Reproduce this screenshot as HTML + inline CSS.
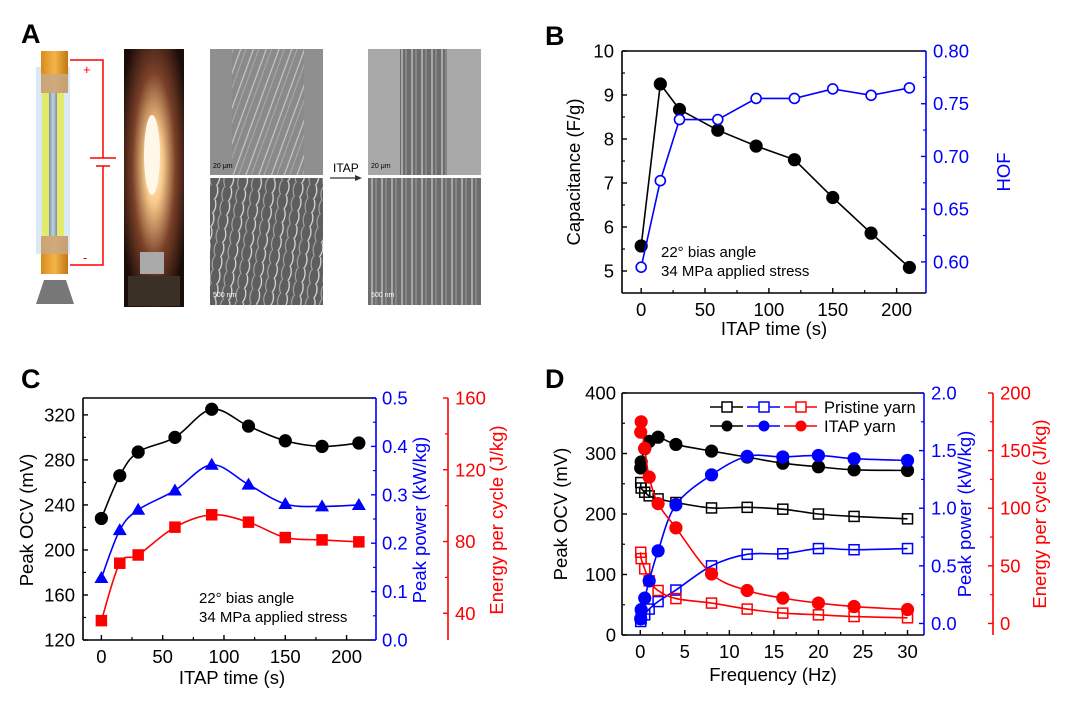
<!DOCTYPE html>
<html><head><meta charset="utf-8">
<style>
html,body{margin:0;padding:0;background:#fff;}
svg{display:block;font-family:"Liberation Sans",Arial,sans-serif;}
</style></head>
<body>
<svg id="fig" width="1080" height="706" viewBox="0 0 1080 706" xmlns="http://www.w3.org/2000/svg">
<rect width="1080" height="706" fill="#fff"/>
<defs>
<linearGradient id="copper" x1="0" x2="1"><stop offset="0" stop-color="#d98a1c"/><stop offset="0.5" stop-color="#f4b54a"/><stop offset="1" stop-color="#c47612"/></linearGradient>
<linearGradient id="rod" x1="0" x2="1"><stop offset="0" stop-color="#7d90a6"/><stop offset="0.5" stop-color="#c4d2e0"/><stop offset="1" stop-color="#7d90a6"/></linearGradient>
<radialGradient id="glow" cx="0.5" cy="0.45" r="0.6"><stop offset="0" stop-color="#fff7e0"/><stop offset="0.25" stop-color="#f7c98a"/><stop offset="0.6" stop-color="#7a4028"/><stop offset="1" stop-color="#1a0c08"/></radialGradient>
<pattern id="fibersA" width="12" height="12" patternUnits="userSpaceOnUse" patternTransform="rotate(20)"><rect width="12" height="12" fill="#8a8a8a"/><line x1="3" y1="0" x2="3" y2="12" stroke="#c8c8c8" stroke-width="1.2"/><line x1="8" y1="0" x2="8" y2="12" stroke="#aaa" stroke-width="1"/></pattern>
<pattern id="fibersB" width="10" height="10" patternUnits="userSpaceOnUse"><rect width="10" height="10" fill="#6d6d6d"/><line x1="2" y1="0" x2="2" y2="10" stroke="#d0d0d0" stroke-width="1.2"/><line x1="6" y1="0" x2="6" y2="10" stroke="#a0a0a0" stroke-width="1"/></pattern>
<pattern id="fibersC" width="14" height="14" patternUnits="userSpaceOnUse" patternTransform="rotate(8)"><rect width="14" height="14" fill="#5e5e5e"/><path d="M3 0 Q6 7 2 14" stroke="#e0e0e0" stroke-width="1.2" fill="none"/><path d="M10 0 Q7 7 11 14" stroke="#b0b0b0" stroke-width="1" fill="none"/></pattern>
</defs>

<!-- Panel A -->
<g>
<text x="21" y="43" font-size="27" font-weight="bold">A</text>
<g>
<rect x="36" y="67" width="34" height="187" fill="#cfe3f3" opacity="0.8"/>
<rect x="42" y="90" width="22" height="150" fill="#e3ea6a"/>
<rect x="49" y="92" width="8" height="146" fill="url(#rod)"/>
<rect x="41" y="51" width="27" height="42" fill="url(#copper)"/>
<rect x="41" y="74" width="27" height="19" fill="#c7a98a" opacity="0.8"/>
<rect x="41" y="236" width="27" height="38" fill="url(#copper)"/>
<rect x="41" y="236" width="27" height="18" fill="#c7a98a" opacity="0.8"/>
<path d="M44 280 L66 280 L74 304 L36 304 Z" fill="#777"/>
<polyline points="70,60 103,60 103,158" fill="none" stroke="#f00" stroke-width="1.5"/>
<polyline points="70,265 103,265 103,166" fill="none" stroke="#f00" stroke-width="1.5"/>
<line x1="90" y1="158" x2="116" y2="158" stroke="#f00" stroke-width="1.5"/>
<line x1="96" y1="166" x2="110" y2="166" stroke="#f00" stroke-width="1.5"/>
<text x="83" y="74" font-size="13" fill="#f00">+</text>
<text x="83" y="262" font-size="13" fill="#f00">-</text>
</g>
<g>
<rect x="124" y="49" width="60" height="258" fill="url(#glow)"/>
<ellipse cx="152" cy="155" rx="8" ry="40" fill="#fff8e8"/>
<rect x="140" y="252" width="24" height="22" fill="#aaa"/>
<rect x="128" y="276" width="52" height="30" fill="#3a3025"/>
</g>
<g>
<rect x="210" y="49" width="113" height="126" fill="#8f8f8f"/>
<rect x="232" y="49" width="72" height="126" fill="url(#fibersA)"/>
<rect x="210" y="178" width="113" height="127" fill="url(#fibersC)"/>
<text x="213" y="168" font-size="7" fill="#000">20 μm</text>
<text x="213" y="297" font-size="7" fill="#fff">500 nm</text>
</g>
<g>
<rect x="368" y="49" width="113" height="126" fill="#a8a8a8"/>
<rect x="400" y="49" width="47" height="126" fill="url(#fibersB)"/>
<rect x="368" y="178" width="113" height="127" fill="url(#fibersB)"/>
<text x="371" y="168" font-size="7" fill="#000">20 μm</text>
<text x="371" y="297" font-size="7" fill="#fff">500 nm</text>
</g>
<text x="333" y="172" font-size="12">ITAP</text>
<line x1="330" y1="178" x2="358" y2="178" stroke="#333" stroke-width="1.2"/>
<path d="M362 178 L355 175 L355 181 Z" fill="#333"/>
</g>

<g id="panelB"></g>
<g id="panelC"></g>
<g id="panelD"></g>
</svg>

<script>
// ---------- Panel B data ----------
const bTime = [0, 15, 30, 60, 90, 120, 150, 180, 210];
const bCap = [5.57, 9.25, 8.67, 8.2, 7.84, 7.53, 6.67, 5.86, 5.08];
const bHof = [0.595, 0.677, 0.735, 0.735, 0.755, 0.755, 0.764, 0.758, 0.765];
const bXTicks = [0, 50, 100, 150, 200];
const bYTicks = [5, 6, 7, 8, 9, 10];
const bY2Ticks = ["0.60", "0.65", "0.70", "0.75", "0.80"];
// ---------- Panel C data ----------
const cTime = [0, 15, 30, 60, 90, 120, 150, 180, 210];
const cOcv = [228, 266, 287, 300, 325, 310, 297, 292, 295];
const cPower = [0.128, 0.227, 0.269, 0.309, 0.362, 0.321, 0.281, 0.276, 0.279];
const cEnergy = [35.9, 67.9, 72.5, 88, 94.9, 90.8, 82.2, 80.9, 79.8];
const cXTicks = [0, 50, 100, 150, 200];
const cYTicks = [120, 160, 200, 240, 280, 320];
const cY2Ticks = ["0.0", "0.1", "0.2", "0.3", "0.4", "0.5"];
const cY3Ticks = [40, 80, 120, 160];
// ---------- Panel D data ----------
const dFreq = [0.05, 0.1, 0.5, 1, 2, 4, 8, 12, 16, 20, 24, 30];
const dOcvItap = [276, 286, 308, 320, 327, 315, 304, 294, 284, 278, 273, 272];
const dOcvPristine = [252, 243, 236, 230, 225, 219, 210, 211, 208, 200, 196, 192];
const dPowItap = [0.04, 0.12, 0.22, 0.37, 0.63, 1.03, 1.29, 1.45, 1.445, 1.458, 1.43, 1.415];
const dPowPristine = [0.017, 0.04, 0.075, 0.125, 0.19, 0.29, 0.50, 0.60, 0.605, 0.65, 0.64, 0.65];
const dEnItap = [166, 175, 152, 127, 104, 83, 43, 28.6, 22, 17.7, 14.7, 12.1];
const dEnPristine = [61.8, 56.3, 47.4, 37, 28.6, 21.6, 17.7, 12.5, 9, 7.5, 6, 4.9];
const dXTicks = [0, 5, 10, 15, 20, 25, 30];
const dYTicks = [0, 100, 200, 300, 400];
const dY2Ticks = ["0.0", "0.5", "1.0", "1.5", "2.0"];
const dY3Ticks = [0, 50, 100, 150, 200];

const FS = 18.5;
const NS = "http://www.w3.org/2000/svg";
function el(parent, tag, attrs, text) {
  const e = document.createElementNS(NS, tag);
  for (const k in attrs) e.setAttribute(k, attrs[k]);
  if (text !== undefined) e.textContent = text;
  parent.appendChild(e);
  return e;
}
function lin(d0, d1, r0, r1) { return v => r0 + (v - d0) * (r1 - r0) / (d1 - d0); }
function smoothPath(pts) {
  let d = "M" + pts[0][0] + "," + pts[0][1];
  for (let i = 0; i < pts.length - 1; i++) {
    const p0 = pts[i - 1] || pts[i], p1 = pts[i], p2 = pts[i + 1], p3 = pts[i + 2] || p2;
    const c1 = [p1[0] + (p2[0] - p0[0]) / 6, p1[1] + (p2[1] - p0[1]) / 6];
    const c2 = [p2[0] - (p3[0] - p1[0]) / 6, p2[1] - (p3[1] - p1[1]) / 6];
    d += " C" + c1 + " " + c2 + " " + p2;
  }
  return d;
}
function series(g, xs, ys, sx, sy, color, marker, filled, smooth, name) {
  const pts = xs.map((x, i) => [sx(x), sy(ys[i])]);
  const line = el(g, "path", {d: smooth ? smoothPath(pts) : "M" + pts.join(" L"), fill: "none", stroke: color, "stroke-width": 1.6});
  
  
  pts.forEach(p => {
    let m;
    if (marker === "circle") m = el(g, "circle", {cx: p[0], cy: p[1], r: filled ? 5.8 : 5, fill: filled ? color : "#fff", stroke: color, "stroke-width": 1.6});
    else if (marker === "square") m = el(g, "rect", {x: p[0] - 5, y: p[1] - 5, width: 10, height: 10, fill: filled ? color : "#fff", "fill-opacity": filled ? 1 : 0, stroke: color, "stroke-width": 1.5});
    else m = el(g, "path", {d: `M${p[0]},${p[1]-7} L${p[0]+7},${p[1]+5} L${p[0]-7},${p[1]+5} Z`, fill: color});
    
    
  });
}
function vAxis(g, x, y0, y1, sy, ticks, minorStep, color, side, labelX, name) {
  const a = el(g, "line", {x1: x, y1: y0, x2: x, y2: y1, stroke: color, "stroke-width": 1.6});
  
  
  const dir = side === "left" ? 1 : -1;
  ticks.forEach((t, i) => {
    const y = sy(parseFloat(t));
    el(g, "line", {x1: x, y1: y, x2: x + dir * 5, y2: y, stroke: color, "stroke-width": 1.4});
    if (minorStep && i < ticks.length - 1) {
      const ym = sy(parseFloat(t) + minorStep);
      el(g, "line", {x1: x, y1: ym, x2: x + dir * 3, y2: ym, stroke: color, "stroke-width": 1.2});
    }
    const lb = el(g, "text", {x: labelX, y: y + 6.5, "font-size": FS, fill: color, "text-anchor": side === "left" ? "end" : "start"}, t);
    
    
  });
}
function hAxis(g, y, x0, x1, sx, ticks, minorStep, name) {
  ticks.forEach((t, i) => {
    const x = sx(t);
    el(g, "line", {x1: x, y1: y, x2: x, y2: y - 5, stroke: "#000", "stroke-width": 1.4});
    const xm = sx(t + minorStep);
    if (xm < x1) el(g, "line", {x1: xm, y1: y, x2: xm, y2: y - 3, stroke: "#000", "stroke-width": 1.2});
    const lb = el(g, "text", {x: x, y: y + 23, "font-size": FS, "text-anchor": "middle"}, t);
    
    
  });
}
function title(g, x, y, txt, color, rot, name) {
  const t = el(g, "text", {x: x, y: y, "font-size": FS, fill: color, "text-anchor": "middle", transform: rot ? `rotate(-90 ${x} ${y})` : ""}, txt);
  
  
}
function frame(g, L, R, T, B) {
  el(g, "line", {x1: L, y1: T, x2: R, y2: T, stroke: "#000", "stroke-width": 1.6});
  el(g, "line", {x1: L, y1: B, x2: R, y2: B, stroke: "#000", "stroke-width": 1.6});
}

// ---------- Panel B ----------
(function () {
  const g = document.getElementById("panelB");
  const L = 622, R = 926, T = 51, B = 293;
  const sx = lin(-15, 223, L, R), sy = lin(4.5, 10, B, T), sy2 = lin(0.5705, 0.80, B, T);
  const lab = el(g, "text", {x: 545, y: 45, "font-size": 27, "font-weight": "bold"}, "B");
  
  
  frame(g, L, R, T, B);
  vAxis(g, L, T, B, sy, bYTicks.map(String), 0.5, "#000", "left", L - 8, "b-y-axis");
  vAxis(g, R, T, B, sy2, bY2Ticks, 0.025, "#00f", "right", R + 7, "b-y2-axis");
  hAxis(g, B, L, R, sx, bXTicks, 25, "b-x-axis");
  series(g, bTime, bCap, sx, sy, "#000", "circle", true, false, "b-capacitance");
  series(g, bTime, bHof, sx, sy2, "#00f", "circle", false, false, "b-hof");
  title(g, 580, 172, "Capacitance (F/g)", "#000", true, "b-y-title");
  title(g, 1010, 172, "HOF", "#00f", true, "b-y2-title");
  title(g, 774, 335, "ITAP time (s)", "#000", false, "b-x-title");
  const n1 = el(g, "text", {x: 661, y: 257, "font-size": 15}, "22° bias angle");
   
  const n2 = el(g, "text", {x: 661, y: 276, "font-size": 15}, "34 MPa applied stress");
   
})();

// ---------- Panel C ----------
(function () {
  const g = document.getElementById("panelC");
  const L = 83, R = 376, T = 398, B = 640;
  const sx = lin(-15, 224, L, R), sy = lin(120, 335, B, T), sy2 = lin(0, 0.5, B, T), sy3 = lin(25.1, 160, B, T);
  const lab = el(g, "text", {x: 21, y: 388, "font-size": 27, "font-weight": "bold"}, "C");
  
  
  frame(g, L, R, T, B);
  vAxis(g, L, T, B, sy, cYTicks.map(String), 20, "#000", "left", L - 8, "c-y-axis");
  vAxis(g, R, T, B, sy2, cY2Ticks, 0.05, "#00f", "right", R + 6, "c-y2-axis");
  vAxis(g, 448, T, B, sy3, cY3Ticks.map(String), 20, "#f00", "right", 455, "c-y3-axis");
  hAxis(g, B, L, R, sx, cXTicks, 25, "c-x-axis");
  series(g, cTime, cOcv, sx, sy, "#000", "circle", true, true, "c-ocv");
  series(g, cTime, cPower, sx, sy2, "#00f", "triangle", true, true, "c-power");
  series(g, cTime, cEnergy, sx, sy3, "#f00", "square", true, true, "c-energy");
  title(g, 33, 520, "Peak OCV (mV)", "#000", true, "c-y-title");
  title(g, 426, 520, "Peak power (kW/kg)", "#00f", true, "c-y2-title");
  title(g, 503, 520, "Energy per cycle (J/kg)", "#f00", true, "c-y3-title");
  title(g, 232, 684, "ITAP time (s)", "#000", false, "c-x-title");
  const n1 = el(g, "text", {x: 199, y: 603, "font-size": 15}, "22° bias angle");
   
  const n2 = el(g, "text", {x: 199, y: 622, "font-size": 15}, "34 MPa applied stress");
   
})();

// ---------- Panel D ----------
(function () {
  const g = document.getElementById("panelD");
  const L = 622, R = 924, T = 393, B = 635;
  const sx = lin(-2.05, 31.85, L, R), sy = lin(0, 400, B, T), sy2 = lin(-0.1, 2.0, B, T), sy3 = lin(-10, 200, B, T);
  const lab = el(g, "text", {x: 545, y: 388, "font-size": 27, "font-weight": "bold"}, "D");
  
  
  frame(g, L, R, T, B);
  vAxis(g, L, T, B, sy, dYTicks.map(String), 50, "#000", "left", L - 6, "d-y-axis");
  vAxis(g, R, T, B, sy2, dY2Ticks, 0.25, "#00f", "right", R + 7, "d-y2-axis");
  vAxis(g, 993, T, B, sy3, dY3Ticks.map(String), 25, "#f00", "right", 1000, "d-y3-axis");
  hAxis(g, B, L, R, sx, dXTicks, 2.5, "d-x-axis");
  series(g, dFreq, dOcvPristine, sx, sy, "#000", "square", false, true, "d-ocv-pristine");
  series(g, dFreq, dPowPristine, sx, sy2, "#00f", "square", false, true, "d-power-pristine");
  series(g, dFreq, dEnPristine, sx, sy3, "#f00", "square", false, true, "d-energy-pristine");
  series(g, dFreq, dOcvItap, sx, sy, "#000", "circle", true, true, "d-ocv-itap");
  series(g, dFreq, dPowItap, sx, sy2, "#00f", "circle", true, true, "d-power-itap");
  series(g, dFreq, dEnItap, sx, sy3, "#f00", "circle", true, true, "d-energy-itap");
  title(g, 567, 514, "Peak OCV (mV)", "#000", true, "d-y-title");
  title(g, 971, 514, "Peak power (kW/kg)", "#00f", true, "d-y2-title");
  title(g, 1046, 514, "Energy per cycle (J/kg)", "#f00", true, "d-y3-title");
  title(g, 773, 681, "Frequency (Hz)", "#000", false, "d-x-title");
  const leg = el(g, "g", {});
  
  
  const cols = ["#000", "#00f", "#f00"];
  [["Pristine yarn", false, 407], ["ITAP yarn", true, 426]].forEach(([txt, filled, y]) => {
    cols.forEach((c, i) => {
      const x0 = 710 + i * 37;
      el(leg, "line", {x1: x0, y1: y, x2: x0 + 33, y2: y, stroke: c, "stroke-width": 1.6});
      if (filled) el(leg, "circle", {cx: x0 + 17, cy: y, r: 5.5, fill: c});
      else el(leg, "rect", {x: x0 + 12, y: y - 5, width: 10, height: 10, fill: "#fff", stroke: c, "stroke-width": 1.5});
    });
    const t = el(leg, "text", {x: 824, y: y + 6, "font-size": 16.5}, txt);
    
    
  });
})();
</script>
</body></html>
